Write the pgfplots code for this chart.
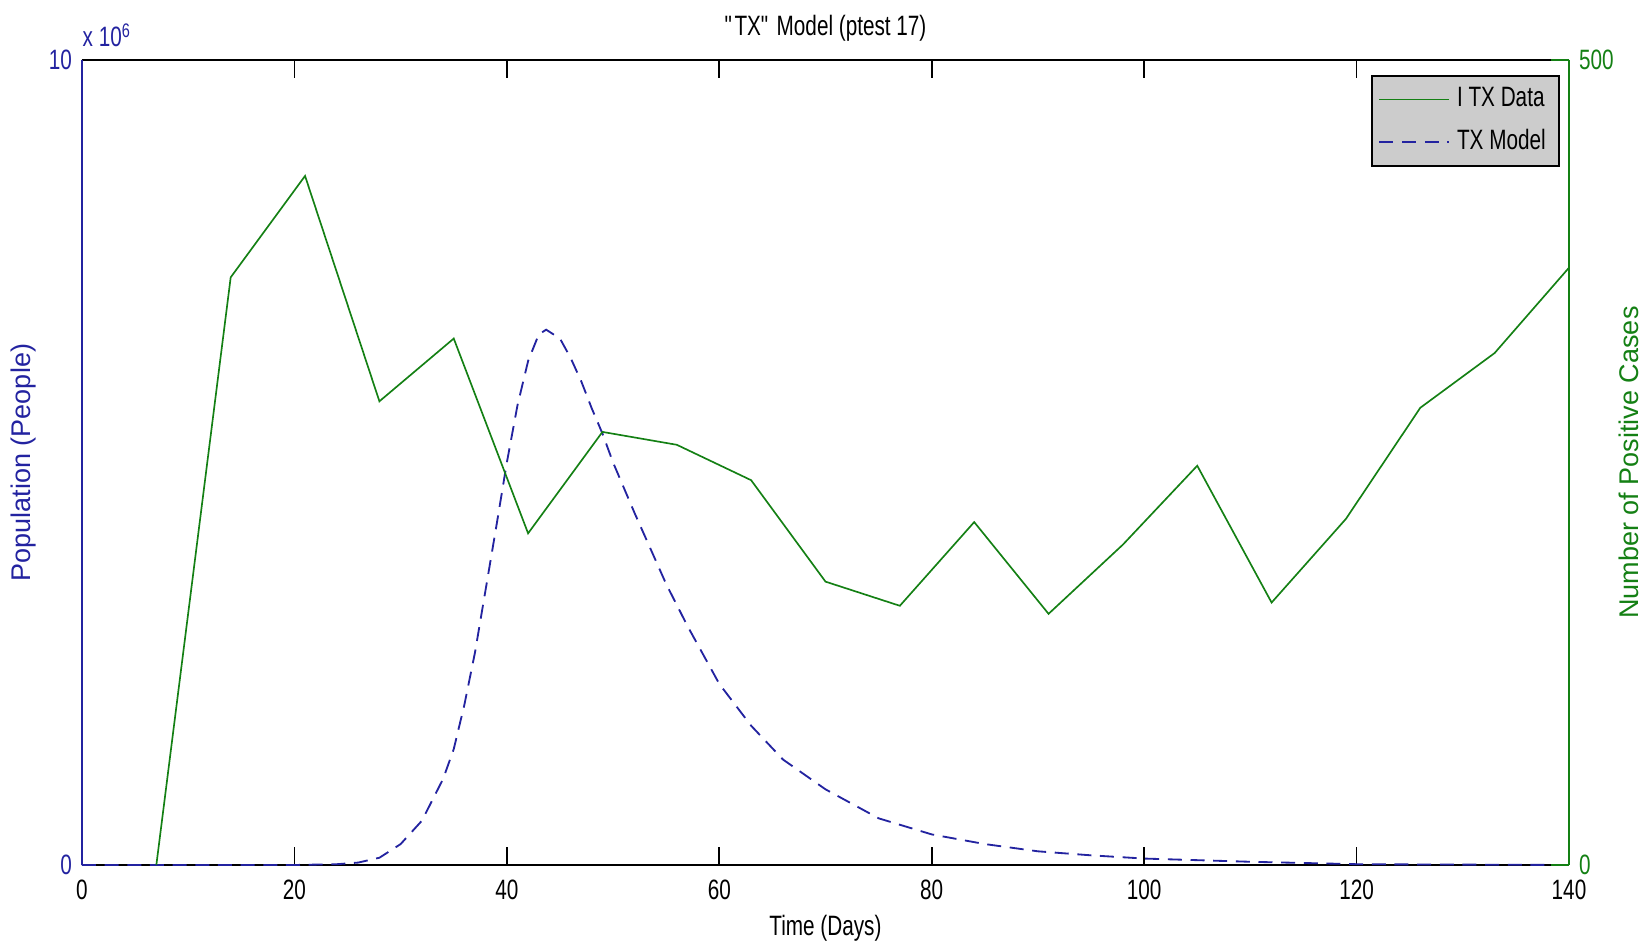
\documentclass[border=0pt]{standalone}
\usepackage{fontspec}
\setmainfont{Liberation Sans}[FakeStretch=0.74]
\newfontfamily\widefont{Liberation Sans}
\usepackage{pgfplots}
\pgfplotsset{compat=1.18}
\definecolor{mblue}{RGB}{35,35,160}
\definecolor{mgreen}{RGB}{20,128,20}
\begin{document}
\fontsize{8.4bp}{10bp}\selectfont
\begin{tikzpicture}
\useasboundingbox (-24.6bp,-23.7bp) rectangle (470.4bp,259.5bp);
\begin{axis}[
  at={(0,0)}, anchor=south west,
  width=446.1bp, height=241.5bp, scale only axis,
  xmin=0, xmax=140, ymin=0, ymax=10,
  xtick={0,20,...,140}, ytick={0,10},
  xtick pos=both, ytick pos=left,
  tick align=inside, major tick length=5.4bp,
  /pgf/number format/assume math mode=true,
  ticklabel style={font=\fontsize{8.4bp}{10bp}\selectfont},
  xticklabel style={yshift=-1.5bp},
  yticklabel style={mblue},
  separate axis lines,
  x axis line style={black, line width=0.6bp},
  y axis line style={mblue, line width=0.6bp},
  tick style={black, line width=0.5bp},
  title={\textquotedbl TX\textquotedbl\ Model (ptest 17)},
  title style={at={(axis description cs:0.5,1)}, anchor=center, yshift=3.4bp, font=\fontsize{8.4bp}{10bp}\selectfont},
  xlabel={Time (Days)},
  xlabel style={at={(axis description cs:0.5,0)}, anchor=center, yshift=-18.9bp, font=\fontsize{8.4bp}{10bp}\selectfont},
  ylabel={Population (People)},
  ylabel style={at={(axis description cs:-0.0390,0.5)}, anchor=center, mblue, font=\widefont\fontsize{8.1bp}{10bp}\selectfont},
  clip=false,
]
\addplot[mblue, line width=0.55bp, dash pattern=on 4.2bp off 2.6bp] coordinates {
(0,0) (10,0) (20,0) (24,0.01) (26,0.03) (28,0.09) (30,0.26) (32,0.55) (34,1.07) (35,1.44)
(36,1.99) (37,2.64) (38,3.42) (39,4.2) (40,5.0) (41,5.71) (42,6.26) (43,6.59) (43.7,6.65)
(45,6.54) (46,6.3) (47,6.01) (48,5.67) (49,5.36) (50,5.0) (52,4.38) (55,3.49) (57,2.97)
(60,2.25) (63,1.73) (66,1.31) (70,0.94) (75,0.58) (80,0.38) (85,0.26) (90,0.17) (95,0.12)
(100,0.08) (110,0.04) (120,0.01) (130,0.005) (140,0)
};
\node[anchor=base west, mblue, inner sep=0pt] at (rel axis cs:0,1) [yshift=3.9bp] {x 10\textsuperscript{6}};
\end{axis}
\begin{axis}[
  at={(0,0)}, anchor=south west,
  width=446.1bp, height=241.5bp, scale only axis,
  xmin=0, xmax=140, ymin=0, ymax=500,
  axis x line=none, axis y line*=right,
  ytick={0,500},
  tick align=inside, major tick length=5.4bp,
  /pgf/number format/assume math mode=true,
  ticklabel style={font=\fontsize{8.4bp}{10bp}\selectfont},
  yticklabel style={mgreen},
  y axis line style={mgreen, line width=0.6bp},
  tick style={mgreen, line width=0.5bp},
  ylabel={Number of Positive Cases},
  ylabel style={at={(axis description cs:1.0404,0.5)}, anchor=center, rotate=0, mgreen, font=\widefont\fontsize{8.1bp}{10bp}\selectfont},
  legend style={at={(rel axis cs:1,1)}, anchor=north east, xshift=-2.7bp, yshift=-4.5bp,
    fill=black!20, draw=black, line width=0.6bp, inner xsep=2bp, inner ysep=1.5bp,
    font=\fontsize{8.4bp}{10bp}\selectfont, row sep=1.5bp, cells={anchor=west}},
  legend image code/.code={\draw[#1] (0bp,0bp) -- (21bp,0bp);},
  legend cell align=left,
  clip=false,
]
\addplot[mgreen, line width=0.5bp] coordinates {
(7,0) (14,365) (21,428) (28,288) (35,327) (42,206) (49,269) (56,261) (63,239)
(70,176) (77,161) (84,213) (91,156) (98,199) (105,248) (112,163) (119,215) (126,284)
(133,318) (140,371)
};
\addlegendentry{I TX Data}
\addlegendimage{mblue, line width=0.55bp, dash pattern=on 4.2bp off 2.6bp}
\addlegendentry{TX Model}
\end{axis}
\end{tikzpicture}
\end{document}
